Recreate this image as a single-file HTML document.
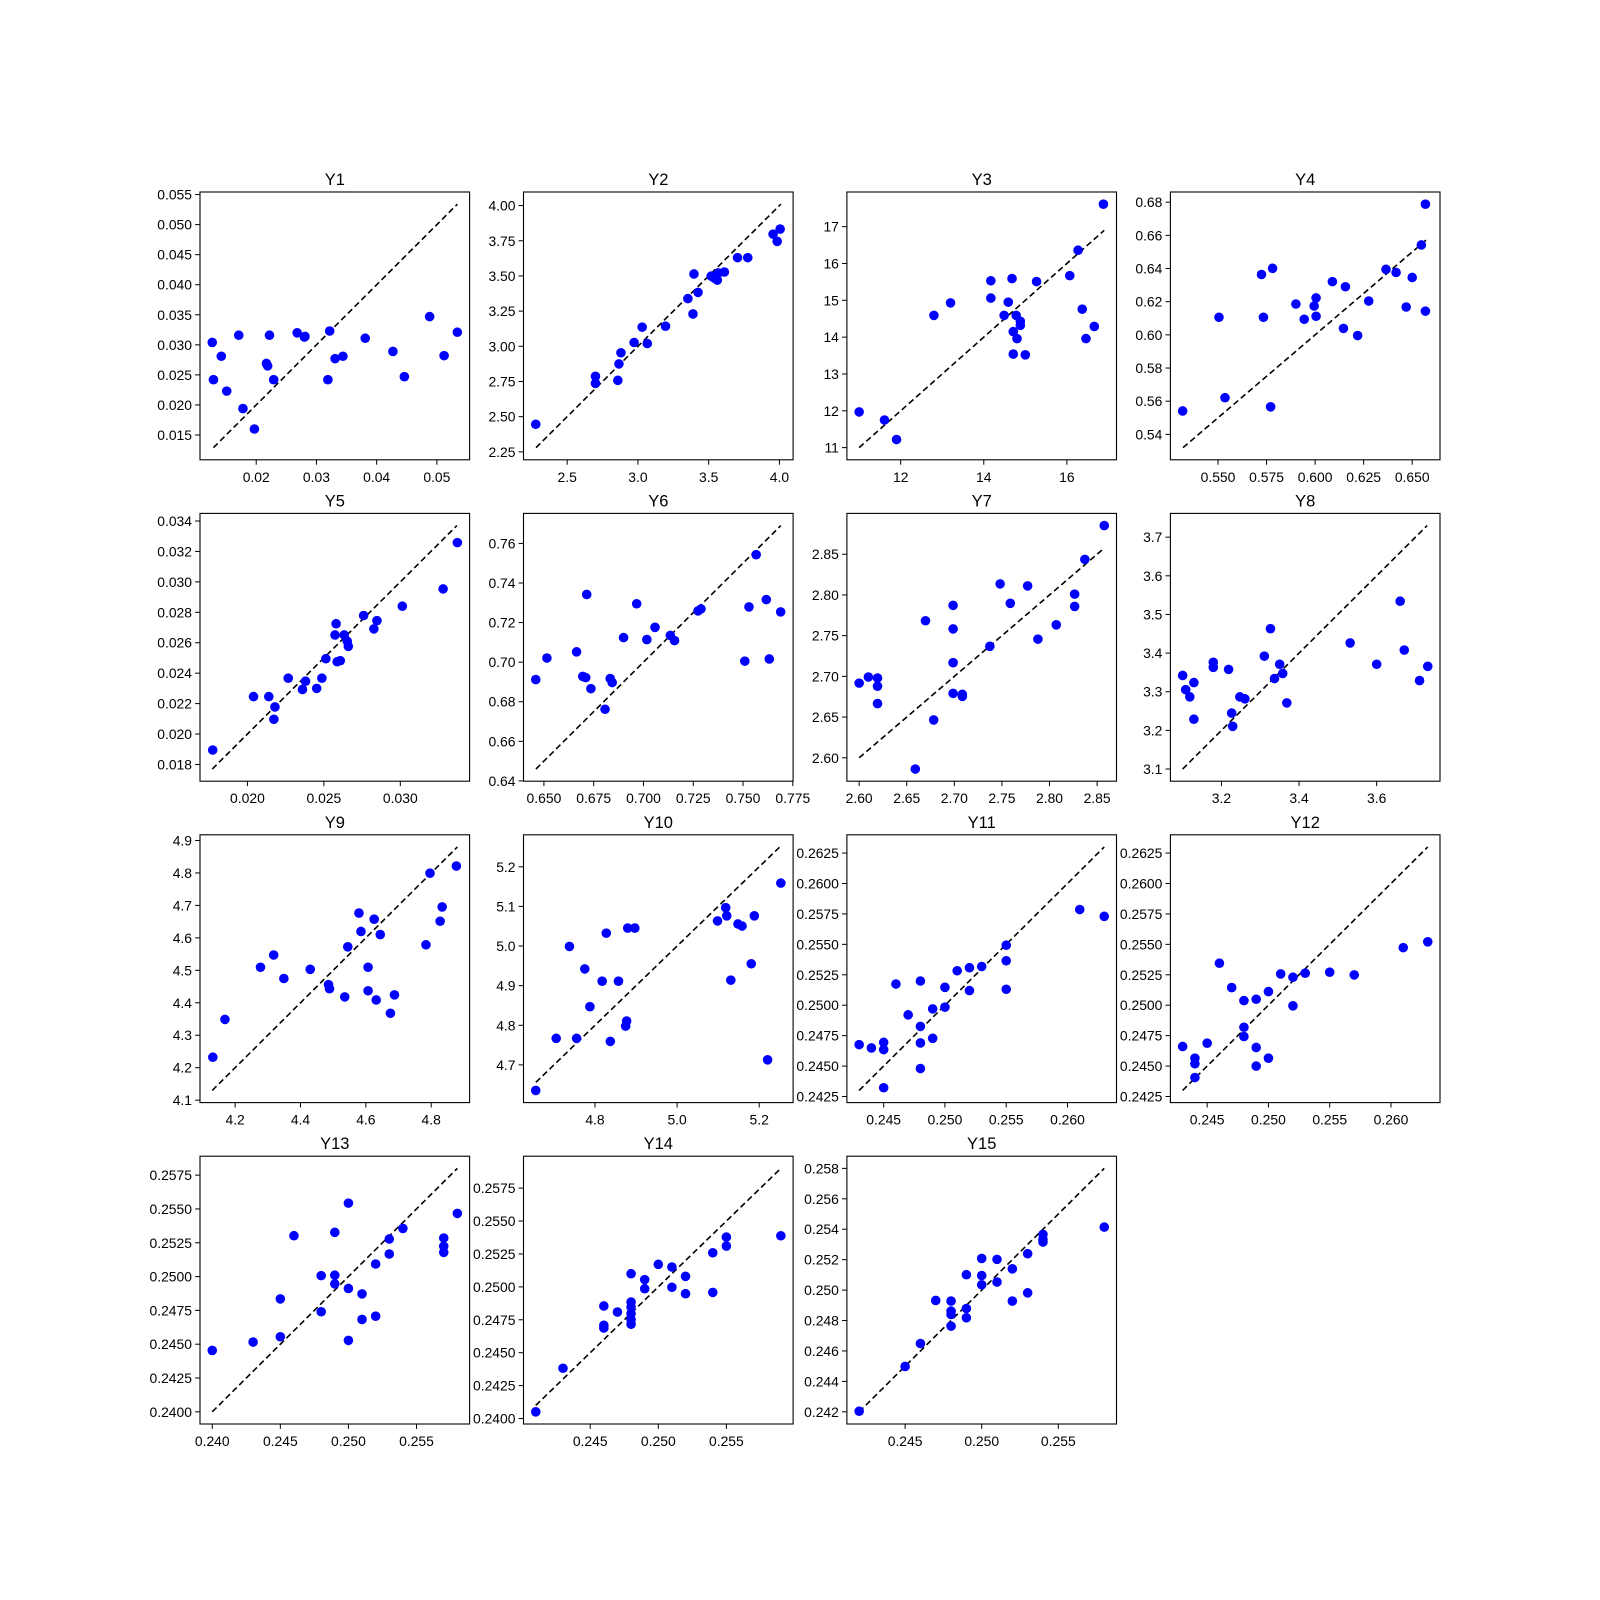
<!DOCTYPE html>
<html><head><meta charset="utf-8"><style>
html,body{margin:0;padding:0;background:#fff;}
svg{display:block;font-family:"Liberation Sans","DejaVu Sans",sans-serif;}
</style></head><body>
<svg id="fig" width="1600" height="1600" viewBox="0 0 1600 1600"></svg>
<script>
const Y1x=[0.0127,0.0129,0.0142,0.0151,0.0171,0.0178,0.0197,0.0217,0.0219,0.0222,0.0229,0.0268,0.0280,0.0281,0.0319,0.0322,0.0331,0.0344,0.0381,0.0427,0.0446,0.0488,0.0512,0.0534];
const Y1y=[0.0304,0.0242,0.0281,0.0223,0.0316,0.0194,0.0160,0.0269,0.0265,0.0316,0.0242,0.0320,0.0313,0.0314,0.0242,0.0323,0.0277,0.0281,0.0311,0.0289,0.0247,0.0347,0.0282,0.0321];
const Y2x=[2.278,2.70,2.70,2.858,2.866,2.88,2.973,3.03,3.066,3.195,3.353,3.389,3.396,3.425,3.518,3.54,3.561,3.568,3.611,3.704,3.776,3.955,3.984,4.005];
const Y2y=[2.446,2.787,2.737,2.758,2.875,2.954,3.027,3.136,3.02,3.143,3.339,3.23,3.514,3.383,3.499,3.485,3.47,3.521,3.528,3.63,3.63,3.797,3.746,3.833];
const Y3x=[11.0,11.61,11.9,12.8,13.2,14.17,14.17,14.49,14.59,14.68,14.71,14.71,14.78,14.8,14.88,14.88,15.0,15.27,16.07,16.27,16.37,16.46,16.66,16.88];
const Y3y=[11.97,11.75,11.22,14.59,14.93,15.53,15.06,14.59,14.95,15.59,14.15,13.54,14.59,13.96,14.43,14.32,13.52,15.51,15.67,16.36,14.76,13.96,14.29,17.61];
const Y4x=[0.5318,0.5505,0.5536,0.5724,0.5734,0.5771,0.5781,0.5901,0.5944,0.5995,0.6005,0.6005,0.6089,0.6146,0.6156,0.6219,0.6276,0.6365,0.6417,0.6469,0.65,0.6547,0.6568,0.6568];
const Y4y=[0.5541,0.6106,0.5621,0.6364,0.6106,0.5566,0.6401,0.6186,0.6094,0.6174,0.6223,0.6112,0.6321,0.6039,0.629,0.5996,0.6204,0.6395,0.6376,0.6168,0.6346,0.6542,0.6788,0.6143];
const Y5x=[0.01773,0.0204,0.0214,0.02173,0.0218,0.02267,0.0236,0.0238,0.02453,0.02487,0.02513,0.02573,0.0258,0.02587,0.02607,0.02633,0.02653,0.0266,0.0276,0.02827,0.02847,0.03013,0.0328,0.03373];
const Y5y=[0.01895,0.02246,0.02246,0.02097,0.02178,0.02367,0.02293,0.02347,0.023,0.02367,0.02495,0.02651,0.02725,0.02475,0.02482,0.02651,0.0261,0.02576,0.02779,0.02691,0.02745,0.0284,0.02954,0.03258];
const Y6x=[0.6459,0.6515,0.6664,0.6695,0.671,0.6715,0.6736,0.6807,0.6833,0.6843,0.69,0.6966,0.7017,0.7058,0.7135,0.7156,0.7274,0.7289,0.7509,0.753,0.7566,0.7617,0.7632,0.7689];
const Y6y=[0.6912,0.7021,0.7052,0.6928,0.6922,0.7342,0.6866,0.6762,0.6917,0.6897,0.7124,0.7295,0.7114,0.7176,0.7135,0.7109,0.7259,0.7269,0.7005,0.7279,0.7543,0.7316,0.7016,0.7254];
const Y7x=[2.6,2.6097,2.6193,2.6193,2.6193,2.6697,2.6783,2.659,2.6987,2.6987,2.6987,2.6987,2.7084,2.7084,2.7373,2.7481,2.7588,2.777,2.7878,2.8071,2.8264,2.8264,2.8371,2.8575];
const Y7y=[2.6917,2.6992,2.698,2.6879,2.6666,2.7683,2.6465,2.5862,2.7872,2.7583,2.7168,2.6791,2.6779,2.6754,2.7369,2.8136,2.7897,2.8111,2.7457,2.7633,2.801,2.7859,2.8437,2.8852];
const Y8x=[3.1,3.1079,3.1184,3.1289,3.1289,3.1789,3.1789,3.2184,3.2263,3.2289,3.2474,3.2605,3.3105,3.3263,3.3368,3.35,3.3579,3.3684,3.5316,3.6,3.6605,3.6711,3.7105,3.7316];
const Y8y=[3.3421,3.3053,3.2868,3.3237,3.2289,3.3763,3.3632,3.3579,3.2447,3.2105,3.2868,3.2816,3.3921,3.4632,3.3342,3.3711,3.3474,3.2711,3.4263,3.3711,3.5342,3.4079,3.3289,3.3658];
const Y9x=[4.1317,4.1689,4.2776,4.318,4.3491,4.4298,4.4857,4.4888,4.5354,4.5447,4.5789,4.5851,4.6068,4.6068,4.6255,4.6317,4.6441,4.6752,4.6876,4.7839,4.7963,4.8273,4.8335,4.877];
const Y9y=[4.2323,4.3488,4.5094,4.5472,4.4748,4.5031,4.4559,4.4433,4.4181,4.5724,4.6764,4.6197,4.5094,4.437,4.6575,4.4087,4.6102,4.3677,4.4244,4.5787,4.7992,4.6512,4.6953,4.8213];
const Y10x=[4.6557,4.7055,4.7378,4.7552,4.7751,4.7876,4.8174,4.8274,4.8373,4.8572,4.8746,4.8771,4.8796,4.897,5.0985,5.1184,5.1209,5.1308,5.1483,5.1582,5.1806,5.1881,5.2204,5.2527];
const Y10y=[4.6356,4.767,4.999,4.767,4.9423,4.8469,4.9113,5.0325,4.7593,4.9113,4.7979,4.8108,5.0454,5.0454,5.0634,5.0969,5.0763,4.9139,5.0557,5.0505,4.9552,5.0763,4.7129,5.1588];
const Y11x=[0.243,0.244,0.245,0.245,0.245,0.246,0.247,0.248,0.248,0.248,0.248,0.249,0.249,0.250,0.250,0.251,0.252,0.252,0.253,0.255,0.255,0.255,0.261,0.263];
const Y11y=[0.24676,0.24649,0.24695,0.24635,0.24322,0.25174,0.24921,0.25199,0.24826,0.2469,0.2448,0.2497,0.24728,0.24984,0.25147,0.25283,0.25308,0.2512,0.25318,0.25493,0.25365,0.25131,0.25786,0.2573];
const Y12x=[0.243,0.244,0.244,0.244,0.245,0.246,0.247,0.248,0.248,0.248,0.249,0.249,0.249,0.250,0.250,0.251,0.252,0.252,0.253,0.255,0.257,0.261,0.263];
const Y12y=[0.24661,0.24565,0.24519,0.24406,0.24688,0.25345,0.25145,0.25038,0.24819,0.24743,0.25049,0.24653,0.245,0.25112,0.24565,0.25257,0.2523,0.24995,0.25263,0.25271,0.25249,0.25473,0.25521];
const Y13x=[0.240,0.243,0.245,0.245,0.246,0.248,0.248,0.249,0.249,0.249,0.250,0.250,0.250,0.251,0.251,0.252,0.252,0.253,0.253,0.254,0.257,0.257,0.257,0.258];
const Y13y=[0.24454,0.24516,0.24835,0.24555,0.25302,0.25007,0.2474,0.25327,0.2501,0.24946,0.25543,0.24912,0.24528,0.24872,0.24683,0.25093,0.24707,0.25278,0.25167,0.25356,0.25285,0.25224,0.25179,0.25467];
const Y14x=[0.241,0.243,0.246,0.246,0.246,0.247,0.248,0.248,0.248,0.248,0.248,0.248,0.249,0.249,0.250,0.251,0.251,0.252,0.252,0.254,0.254,0.255,0.255,0.259];
const Y14y=[0.24051,0.24382,0.24855,0.24708,0.24688,0.24809,0.2510,0.24885,0.24847,0.24797,0.24751,0.24716,0.25055,0.24986,0.25171,0.25151,0.24997,0.2508,0.24948,0.25259,0.24958,0.25378,0.2531,0.25388];
const Y15x=[0.242,0.245,0.246,0.247,0.248,0.248,0.248,0.248,0.249,0.249,0.249,0.250,0.250,0.250,0.251,0.251,0.252,0.252,0.253,0.253,0.254,0.254,0.254,0.258];
const Y15y=[0.24204,0.24498,0.24649,0.24932,0.24928,0.24862,0.2484,0.24763,0.25101,0.24879,0.24818,0.25208,0.25096,0.25035,0.25202,0.25053,0.2514,0.24928,0.25239,0.24982,0.25366,0.25333,0.25316,0.25414];

const titles=["Y1","Y2","Y3","Y4","Y5","Y6","Y7","Y8","Y9","Y10","Y11","Y12","Y13","Y14","Y15"];
const xTickLabels=[
 ["0.02","0.03","0.04","0.05"],["2.5","3.0","3.5","4.0"],["12","14","16"],["0.550","0.575","0.600","0.625","0.650"],
 ["0.020","0.025","0.030"],["0.650","0.675","0.700","0.725","0.750","0.775"],["2.60","2.65","2.70","2.75","2.80","2.85"],["3.2","3.4","3.6"],
 ["4.2","4.4","4.6","4.8"],["4.8","5.0","5.2"],["0.245","0.250","0.255","0.260"],["0.245","0.250","0.255","0.260"],
 ["0.240","0.245","0.250","0.255"],["0.245","0.250","0.255"],["0.245","0.250","0.255"]];
const yTickLabels=[
 ["0.015","0.020","0.025","0.030","0.035","0.040","0.045","0.050","0.055"],
 ["2.25","2.50","2.75","3.00","3.25","3.50","3.75","4.00"],
 ["11","12","13","14","15","16","17"],
 ["0.54","0.56","0.58","0.60","0.62","0.64","0.66","0.68"],
 ["0.018","0.020","0.022","0.024","0.026","0.028","0.030","0.032","0.034"],
 ["0.64","0.66","0.68","0.70","0.72","0.74","0.76"],
 ["2.60","2.65","2.70","2.75","2.80","2.85"],
 ["3.1","3.2","3.3","3.4","3.5","3.6","3.7"],
 ["4.1","4.2","4.3","4.4","4.5","4.6","4.7","4.8","4.9"],
 ["4.7","4.8","4.9","5.0","5.1","5.2"],
 ["0.2425","0.2450","0.2475","0.2500","0.2525","0.2550","0.2575","0.2600","0.2625"],
 ["0.2425","0.2450","0.2475","0.2500","0.2525","0.2550","0.2575","0.2600","0.2625"],
 ["0.2400","0.2425","0.2450","0.2475","0.2500","0.2525","0.2550","0.2575"],
 ["0.2400","0.2425","0.2450","0.2475","0.2500","0.2525","0.2550","0.2575"],
 ["0.242","0.244","0.246","0.248","0.250","0.252","0.254","0.256","0.258"]];
const refLo=[0.0129,2.28,11.0,0.532,0.0177,0.646,2.60,3.10,4.13,4.656,0.243,0.243,0.240,0.241,0.242];
const refHi=[0.0534,4.01,16.9,0.658,0.0337,0.769,2.857,3.73,4.88,5.25,0.263,0.263,0.258,0.259,0.258];
const seriesX=[Y1x,Y2x,Y3x,Y4x,Y5x,Y6x,Y7x,Y8x,Y9x,Y10x,Y11x,Y12x,Y13x,Y14x,Y15x];
const seriesY=[Y1y,Y2y,Y3y,Y4y,Y5y,Y6y,Y7y,Y8y,Y9y,Y10y,Y11y,Y12y,Y13y,Y14y,Y15y];

const NS="http://www.w3.org/2000/svg";
const svg=document.getElementById('fig');
const L=[200,523.5,846.9,1170.4], T=[192,513.4,834.8,1156.2], W=269.6, H=267.8;
function mk(tag,attrs,parent){const e=document.createElementNS(NS,tag);for(const k in attrs)e.setAttribute(k,attrs[k]);(parent||svg).appendChild(e);return e;}
function extent(xs,ys,lo,hi){
  let xmin=Math.min(lo,...xs),xmax=Math.max(hi,...xs),ymin=Math.min(lo,...ys),ymax=Math.max(hi,...ys);
  const dx=(xmax-xmin)*0.05,dy=(ymax-ymin)*0.05;
  return [xmin-dx,xmax+dx,ymin-dy,ymax+dy];
}
for(let i=0;i<15;i++){
  const col=i%4,row=Math.floor(i/4);
  const x0=L[col],y0=T[row];
  const xs=seriesX[i],ys=seriesY[i];
  const [xa,xb,ya,yb]=extent(xs,ys,refLo[i],refHi[i]);
  const sx=v=>x0+(v-xa)/(xb-xa)*W;
  const sy=v=>y0+H-(v-ya)/(yb-ya)*H;
  const g=mk('g',{});
  
  
  const clipId='clip'+i;
  const cp=mk('clipPath',{id:clipId},g);mk('rect',{x:x0,y:y0,width:W,height:H},cp);
  const pts=mk('g',{'clip-path':'url(#'+clipId+')'},g);
  const ln=mk('line',{x1:sx(refLo[i]),y1:sy(refLo[i]),x2:sx(refHi[i]),y2:sy(refHi[i]),stroke:'#000','stroke-width':1.6,'stroke-dasharray':'6,3.5'},pts);
  
  
  for(let k=0;k<xs.length;k++){
    const c=mk('circle',{cx:sx(xs[k]),cy:sy(ys[k]),r:4.8,fill:'#0000ff'},pts);
    
    
  }
  const fr=mk('rect',{x:x0,y:y0,width:W,height:H,fill:'none',stroke:'#000','stroke-width':1.1},g);
  
  
  const tt=mk('text',{x:x0+W/2,y:y0-7,'text-anchor':'middle','font-size':16.5,fill:'#000'},g);
  tt.textContent=titles[i];
  
  
  xTickLabels[i].forEach(s=>{
    const v=parseFloat(s),px=sx(v);
    if(px<x0-0.5||px>x0+W+0.5)return;
    mk('line',{x1:px,y1:y0+H,x2:px,y2:y0+H+4.9,stroke:'#000','stroke-width':1},g);
    const t=mk('text',{x:px,y:y0+H+22,'text-anchor':'middle','font-size':13.9,fill:'#000'},g);
    t.textContent=s;
    
    
  });
  yTickLabels[i].forEach(s=>{
    const v=parseFloat(s),py=sy(v);
    if(py<y0-0.5||py>y0+H+0.5)return;
    mk('line',{x1:x0-4.9,y1:py,x2:x0,y2:py,stroke:'#000','stroke-width':1},g);
    const t=mk('text',{x:x0-8,y:py+5,'text-anchor':'end','font-size':13.9,fill:'#000'},g);
    t.textContent=s;
    
    
  });
}
</script>
</body></html>
